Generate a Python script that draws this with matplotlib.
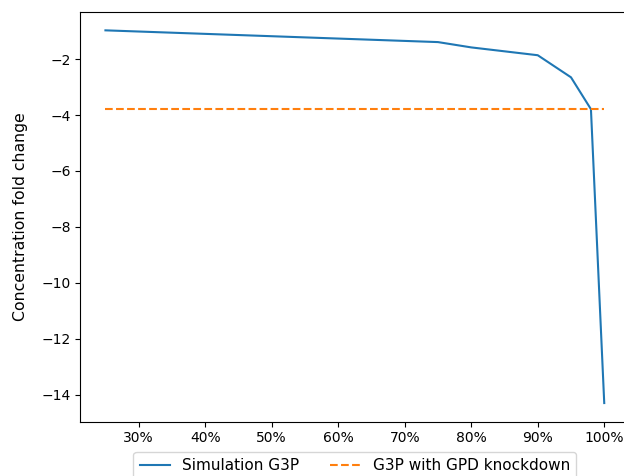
import matplotlib
matplotlib.use("Agg")
import matplotlib.pyplot as plt
from matplotlib.ticker import PercentFormatter

# knockdown fraction vs. simulated fold change
knockdown = [0.25, 0.75, 0.80, 0.90, 0.95, 0.98, 1.00]
sim_g3p = [-0.97, -1.39, -1.58, -1.86, -2.65, -3.79, -14.3]
gpd_knockdown = -3.79

fig = plt.figure(figsize=(6.24, 4.76), dpi=100)
ax = fig.add_axes([0.129, 0.1141, 0.8793, 0.8613])

ax.plot(knockdown, sim_g3p, label="Simulation G3P")
ax.plot(knockdown, [gpd_knockdown] * len(knockdown), "--",
        label="G3P with GPD knockdown")

ax.xaxis.set_major_formatter(PercentFormatter(1.0, decimals=0))
ax.set_ylabel("Concentration fold change", fontsize=11.3)
ax.yaxis.set_label_coords(-0.096, 0.5)
ax.legend(loc="upper center", bbox_to_anchor=(0.5, -0.055), ncol=2,
          fontsize=11)

fig.savefig("out.png", dpi=100)
